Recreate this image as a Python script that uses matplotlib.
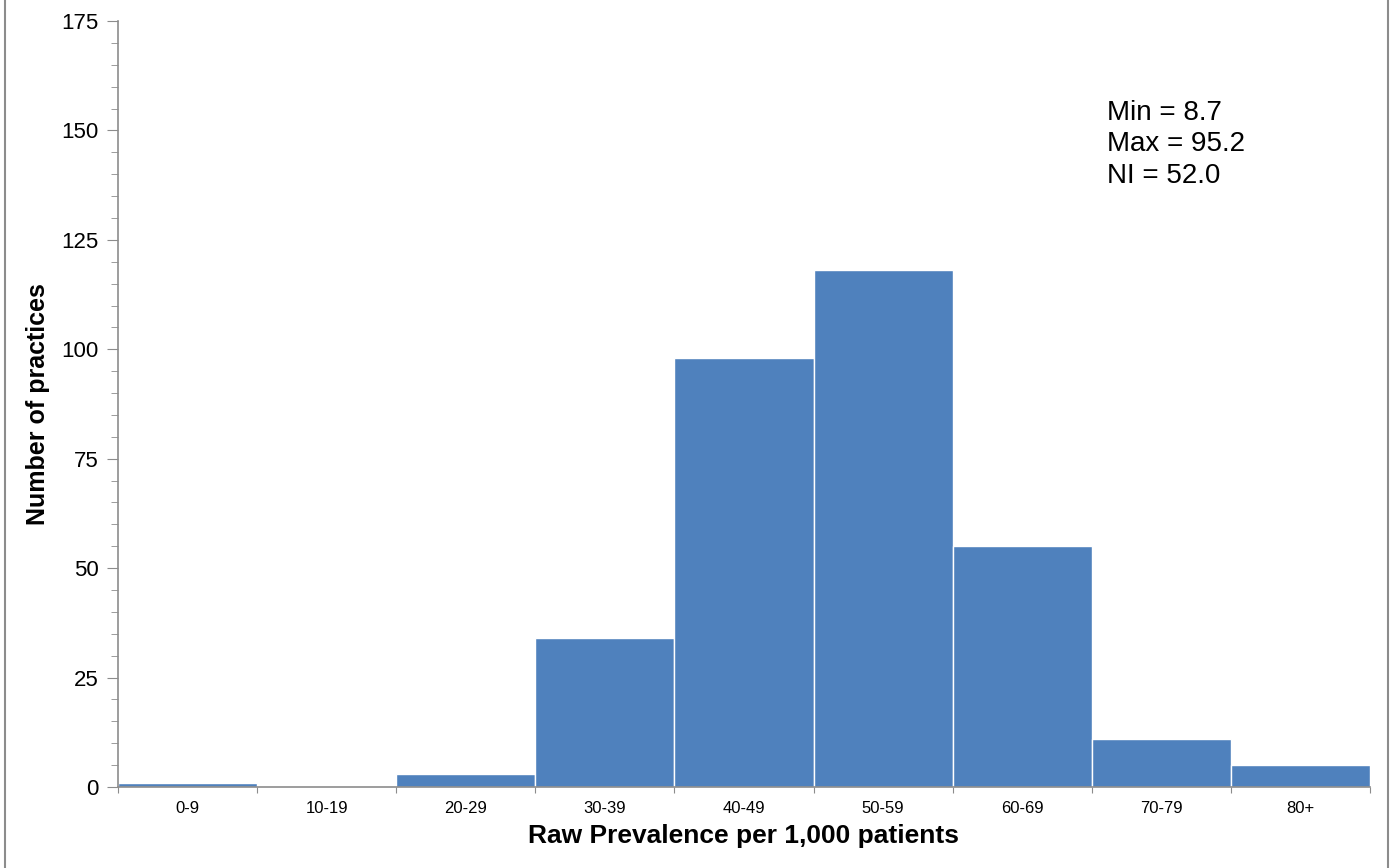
import numpy as np
import matplotlib.pyplot as plt
from matplotlib.lines import Line2D
from matplotlib.ticker import MultipleLocator

plt.rcParams['font.family'] = ['Liberation Sans', 'DejaVu Sans']

# 数据
bins = ["0-9", "10-19", "20-29", "30-39", "40-49", "50-59", "60-69", "70-79", "80+"]
counts = [1, 0, 3, 34, 98, 118, 55, 11, 5]
stats_text = ["Min = 8.7", "Max = 95.2", "NI = 52.0"]

fig = plt.figure(figsize=(13.97, 8.68), dpi=100)
ax = fig.add_axes([118 / 1397, 1 - 787 / 868, (1370 - 118) / 1397, (787 - 21) / 868])

x = np.arange(len(bins))
ax.bar(x, counts, width=1.0, align='edge', color='#4F81BD', edgecolor='white', linewidth=1)

ax.set_xlim(0, len(bins))
ax.set_ylim(0, 175)

# 坐标轴样式
for s in ['top', 'right']:
    ax.spines[s].set_visible(False)
for s in ['left', 'bottom']:
    ax.spines[s].set_color('#8c8c8c')
    ax.spines[s].set_linewidth(1.2)

ax.yaxis.set_major_locator(MultipleLocator(25))
ax.yaxis.set_minor_locator(MultipleLocator(5))
ax.tick_params(axis='y', which='major', length=8, color='#8c8c8c', labelsize=16, pad=6)
ax.tick_params(axis='y', which='minor', length=5, color='#8c8c8c')

# x 轴刻度在边界处，标签居中
ax.set_xticks(np.arange(len(bins) + 1))
ax.set_xticklabels([])
ax.set_xticks(x + 0.5, minor=True)
ax.set_xticklabels(bins, minor=True)
ax.tick_params(axis='x', which='major', length=4, color='#8c8c8c', direction='out')
ax.tick_params(axis='x', which='minor', length=0, labelsize=12, pad=10)

ax.set_xlabel('Raw Prevalence per 1,000 patients', fontsize=19, fontweight='bold', labelpad=6)
ax.set_ylabel('Number of practices', fontsize=18, fontweight='bold', labelpad=8)

ax.text(0.79, 0.897, "\n".join(stats_text), transform=ax.transAxes,
        fontsize=20, va='top', ha='left', linespacing=1.27)

# 外框左右两条竖线
fig.add_artist(Line2D([5 / 1397, 5 / 1397], [0, 1], transform=fig.transFigure, color='#8c8c8c', lw=1.5))
fig.add_artist(Line2D([1388 / 1397, 1388 / 1397], [0, 1], transform=fig.transFigure, color='#8c8c8c', lw=1.5))

plt.savefig('out.png', dpi=100)
